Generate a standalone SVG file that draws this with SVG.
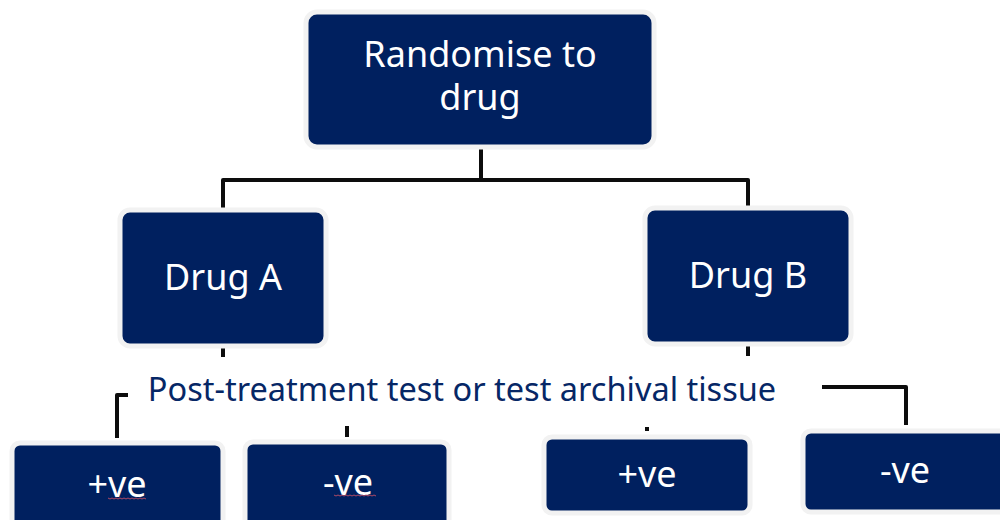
<svg xmlns="http://www.w3.org/2000/svg" width="1000" height="520" viewBox="0 0 1000 520">
  <style>
    .box { fill: #00205f; stroke: #f2f2f2; stroke-width: 5; }
    .lbl { fill: #ffffff; font-family: "Noto Sans", "Open Sans", sans-serif; font-size: 36px; text-anchor: middle; }
    .note { fill: #062766; font-family: "Noto Sans", "Open Sans", sans-serif; font-size: 32.5px; text-anchor: middle; }
    .conn { fill: none; stroke: #0d0d0d; stroke-width: 4; stroke-linejoin: round; }
    .squig { fill: none; stroke: #b04a66; stroke-width: 1; }
  </style>
  <rect width="1000" height="520" fill="#ffffff"/>

  <g id="connectors">
    <path class="conn" d="M481 148 V180"/>
    <path class="conn" d="M223 210 V180 H748 V208"/>
    <path class="conn" d="M223 347 V357"/>
    <path class="conn" d="M748 345 V356"/>
    <path class="conn" d="M117 438 V395 H128"/>
    <path class="conn" d="M347 426 V437"/>
    <path class="conn" d="M647 427 V431"/>
    <path class="conn" d="M822 387 H906 V425"/>
  </g>

  <g id="randomise">
    <rect class="box" x="306" y="12" width="348" height="135" rx="11"/>
    <text class="lbl" x="480" y="67">Randomise to</text>
    <text class="lbl" x="480" y="110">drug</text>
  </g>

  <g id="drug-a">
    <rect class="box" x="120" y="210" width="206" height="136" rx="10"/>
    <text class="lbl" x="223" y="290">Drug A</text>
  </g>

  <g id="drug-b">
    <rect class="box" x="645" y="208" width="206" height="136" rx="10"/>
    <text class="lbl" x="748" y="288">Drug B</text>
  </g>

  <g id="test-note">
    <text class="note" x="462" y="401">Post-treatment test or test archival tissue</text>
  </g>

  <g id="a-positive">
    <rect class="box" x="12" y="443" width="211" height="90" rx="8"/>
    <text class="lbl" x="117" y="497">+ve</text>
    <path class="squig" d="M108 498 l2 1 l2 -1 l2 1 l2 -1 l2 1 l2 -1 l2 1 l2 -1 l2 1 l2 -1 l2 1 l2 -1 l2 1 l2 -1 l2 1 l2 -1 l2 1 l2 -1 l2 1"/>
  </g>

  <g id="a-negative">
    <rect class="box" x="245" y="442" width="204" height="90" rx="8"/>
    <text class="lbl" x="348" y="495">-ve</text>
    <path class="squig" d="M334 495 l2 1 l2 -1 l2 1 l2 -1 l2 1 l2 -1 l2 1 l2 -1 l2 1 l2 -1 l2 1 l2 -1 l2 1 l2 -1 l2 1 l2 -1 l2 1 l2 -1 l2 1 l2 -1 l2 1"/>
  </g>

  <g id="b-positive">
    <rect class="box" x="544" y="437" width="206" height="76" rx="8"/>
    <text class="lbl" x="647" y="487">+ve</text>
  </g>

  <g id="b-negative">
    <rect class="box" x="803" y="431" width="210" height="81" rx="8"/>
    <text class="lbl" x="905" y="483">-ve</text>
  </g>
</svg>
